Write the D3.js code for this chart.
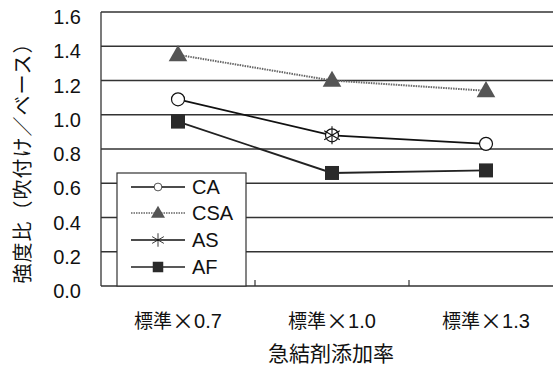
<!DOCTYPE html>
<html>
<head>
<meta charset="utf-8">
<script src="https://cdn.jsdelivr.net/npm/d3@7"></script>
<style>
  html, body { margin: 0; padding: 0; background: #fff; }
  svg { display: block; }
  text { font-family: "Liberation Sans", "Noto Sans CJK JP", sans-serif; fill: #111; }
  .cjk { font-family: "Noto Sans CJK JP", sans-serif; }
</style>
</head>
<body>
<svg id="chart" width="553" height="370"></svg>
<script>
// Accelerator dosage levels (x categories)
const categories = ["標準×0.7", "標準×1.0", "標準×1.3"];
// Strength ratio (sprayed / base) per accelerator type
const caValues  = [1.09, 0.88, 0.83];
const csaValues = [1.35, 1.20, 1.14];
const asValues  = [null, 0.88, null];
const afValues  = [0.96, 0.66, 0.675];
const yTicks = [0, 0.2, 0.4, 0.6, 0.8, 1.0, 1.2, 1.4, 1.6];
const seriesNames = ["CA", "CSA", "AS", "AF"];

const svg = d3.select("#chart");
const plotLeft = 101, plotRight = 563, plotTop = 12, plotBottom = 286;

const x = d3.scaleBand().domain(categories).range([plotLeft, plotRight]).padding(0);
const y = d3.scaleLinear().domain([0, 1.6]).range([plotBottom, plotTop]);

// horizontal gridlines
svg.append("g").selectAll("line").data(yTicks).join("line")
  .attr("x1", plotLeft).attr("x2", plotRight)
  .attr("y1", d => y(d)).attr("y2", d => y(d))
  .attr("stroke", "#333").attr("stroke-width", 1.3);

// left axis line
svg.append("line").attr("x1", plotLeft).attr("x2", plotLeft).attr("y1", plotTop).attr("y2", plotBottom)
  .attr("stroke", "#333").attr("stroke-width", 1.3);

// category boundary ticks on the x axis
svg.append("g").selectAll("line").data(categories.slice(1)).join("line")
  .attr("x1", d => x(d)).attr("x2", d => x(d))
  .attr("y1", plotBottom - 6).attr("y2", plotBottom)
  .attr("stroke", "#333").attr("stroke-width", 1.2);

// y tick labels
svg.append("g").selectAll("text").data(yTicks).join("text")
  .attr("x", 81).attr("y", d => y(d) + 12)
  .attr("text-anchor", "end").attr("font-size", 20)
  .text(d => d3.format(".1f")(d));

// x tick labels: kanji and the multiplication sign set in the CJK face
const xl = svg.append("g").selectAll("text").data(categories).join("text")
  .attr("x", d => x(d) + x.bandwidth() / 2).attr("y", 328)
  .attr("text-anchor", "middle").attr("font-size", 19);
xl.each(function(d) {
  const t = d3.select(this);
  const [head, num] = d.split("×");
  t.append("tspan").attr("class", "cjk").text(head);
  t.append("tspan").attr("class", "cjk").attr("font-size", 22).attr("dy", 1).text("×");
  t.append("tspan").attr("dy", -1).attr("font-size", 20).text(num);
});

// axis titles
svg.append("text").attr("x", 331).attr("y", 361).attr("text-anchor", "middle")
  .attr("class", "cjk").attr("font-size", 21).text("急結剤添加率");
svg.append("text")
  .attr("transform", "translate(30,158) rotate(-90)")
  .attr("text-anchor", "middle").attr("font-size", 20).attr("letter-spacing", 1)
  .attr("class", "cjk")
  .text("強度比（吹付け／ベース）");

const cx = d => x(d) + x.bandwidth() / 2;
const line = d3.line().defined(d => d.v != null).x(d => cx(d.c)).y(d => y(d.v));
const pts = vals => categories.map((c, i) => ({ c, v: vals[i] }));

const styles = {
  CA:  { stroke: "#111", width: 1.8, dash: null },
  CSA: { stroke: "#666", width: 2, dash: "1.5,1" },
  AS:  { stroke: "#111", width: 1.8, dash: null },
  AF:  { stroke: "#222", width: 1.8, dash: null }
};

// marker drawing
function marker(g, name, px, py) {
  if (name === "CA") {
    g.append("circle").attr("cx", px).attr("cy", py).attr("r", 6.5)
      .attr("fill", "#fff").attr("stroke", "#111").attr("stroke-width", 1.2);
  } else if (name === "CSA") {
    g.append("path").attr("d", d3.symbol(d3.symbolTriangle, 150)())
      .attr("transform", `translate(${px},${py + 1})`)
      .attr("fill", "#555");
  } else if (name === "AS") {
    const a = g.append("g").attr("transform", `translate(${px},${py})`)
      .attr("stroke", "#111").attr("stroke-width", 1.1);
    [0, 60, 120].forEach(r => {
      const t = r * Math.PI / 180;
      a.append("line").attr("x1", -9 * Math.sin(t)).attr("y1", -9 * Math.cos(t))
        .attr("x2", 9 * Math.sin(t)).attr("y2", 9 * Math.cos(t));
    });
  } else if (name === "AF") {
    g.append("rect").attr("x", px - 7).attr("y", py - 7).attr("width", 14).attr("height", 14)
      .attr("fill", "#2a2a2a");
  }
}

const series = { CA: caValues, CSA: csaValues, AS: asValues, AF: afValues };
const plot = svg.append("g");
["CSA", "AF", "CA", "AS"].forEach(name => {
  const s = styles[name];
  plot.append("path").datum(pts(series[name])).attr("d", line)
    .attr("fill", "none").attr("stroke", s.stroke).attr("stroke-width", s.width)
    .attr("stroke-dasharray", s.dash);
});
["AF", "CA", "AS", "CSA"].forEach(name => {
  pts(series[name]).filter(d => d.v != null).forEach(d => marker(plot, name, cx(d.c), y(d.v)));
});

// legend
const lg = svg.append("g");
lg.append("rect").attr("x", 117).attr("y", 173).attr("width", 129).attr("height", 113)
  .attr("fill", "#fff").attr("stroke", "#333").attr("stroke-width", 1.2);
const rowY = [187, 213, 240, 267];
seriesNames.forEach((name, i) => {
  const s = styles[name];
  lg.append("line").attr("x1", 131).attr("x2", 185).attr("y1", rowY[i]).attr("y2", rowY[i])
    .attr("stroke", s.stroke).attr("stroke-width", s.width === 2 ? 1.6 : 1.3)
    .attr("stroke-dasharray", s.dash);
  const sm = name === "CA" ? 0.6 : 0.75;
  const g = lg.append("g").attr("transform", `translate(158,${rowY[i]}) scale(${sm}) translate(-158,${-rowY[i]})`);
  marker(g, name, 158, rowY[i]);
  lg.append("text").attr("x", 192).attr("y", rowY[i] + 7).attr("font-size", 20).text(name);
});
</script>
</body>
</html>
